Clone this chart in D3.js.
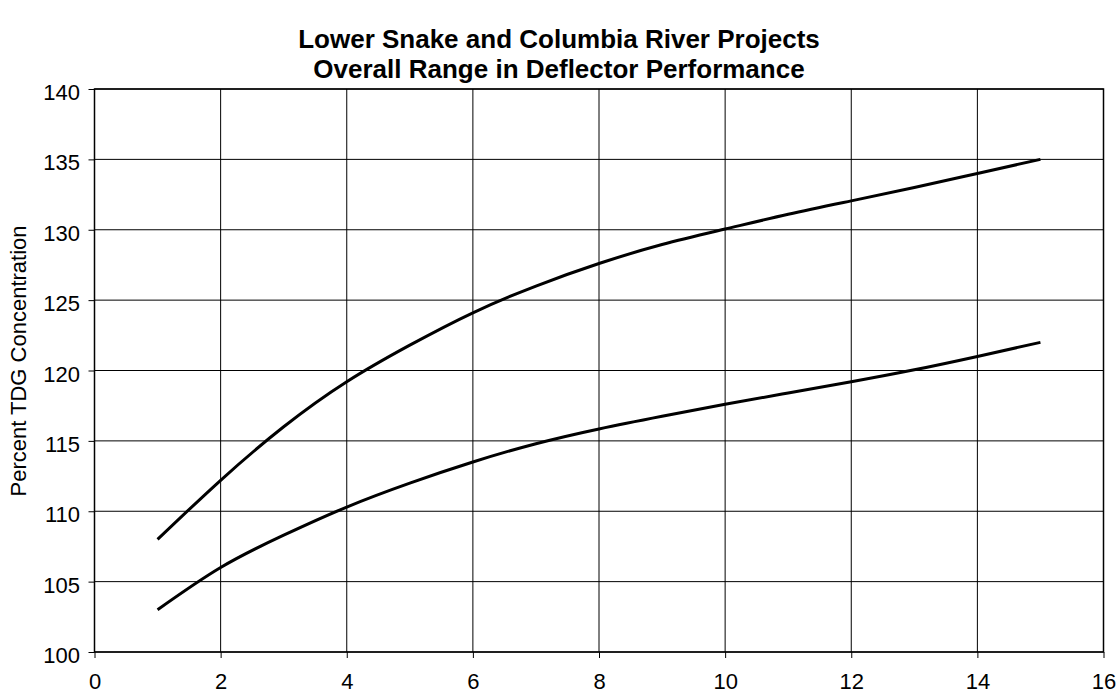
<!DOCTYPE html>
<html><head><meta charset="utf-8">
<script src="https://cdn.jsdelivr.net/npm/d3@7"></script>
<style>body{margin:0;background:#fff;} svg{display:block;font-family:Arial,"Liberation Sans",sans-serif;}</style>
</head><body>
<script>
const xValues = [1,2,3,4,5,6,7,8,9,10,11,12,13,14,15];
const upperSeries = [108,112.2,116.0,119.2,121.8,124.1,126.0,127.6,128.95,130.05,131.1,132.05,133.0,134.0,135.0];
const lowerSeries = [103,106.0,108.3,110.3,112.0,113.5,114.8,115.85,116.75,117.6,118.4,119.2,120.05,121.0,122.0];
const xTicks = [0,2,4,6,8,10,12,14,16];
const yTicks = [100,105,110,115,120,125,130,135,140];
const titleLines = ["Lower Snake and Columbia River Projects","Overall Range in Deflector Performance"];
const yAxisTitle = "Percent TDG Concentration";

const W=1117,H=694;
const m={left:94.5,right:1103.5,top:89,bottom:652};
const svg=d3.select("body").append("svg").attr("width",W).attr("height",H);
const x=d3.scaleLinear().domain([0,16]).range([m.left,m.right]);
const y=d3.scaleLinear().domain([100,140]).range([m.bottom,m.top]);

// gridlines
svg.append("g").selectAll("line").data(yTicks).join("line")
  .attr("x1",m.left).attr("x2",m.right).attr("y1",d=>y(d)).attr("y2",d=>y(d))
  .attr("stroke","#000").attr("stroke-width",1);
svg.append("g").selectAll("line").data(xTicks).join("line")
  .attr("y1",m.top).attr("y2",m.bottom).attr("x1",d=>x(d)).attr("x2",d=>x(d))
  .attr("stroke","#000").attr("stroke-width",1);

// axes
const ya=svg.append("g").attr("transform",`translate(${m.left},0)`)
  .call(d3.axisLeft(y).tickValues(yTicks).tickSize(6).tickPadding(8).tickFormat(d3.format("d")));
const xa=svg.append("g").attr("transform",`translate(0,${m.bottom})`)
  .call(d3.axisBottom(x).tickValues(xTicks).tickSize(6).tickPadding(22).tickFormat(d3.format("d")));
[ya,xa].forEach(g=>{
  g.select(".domain").remove();
  g.selectAll("line").attr("stroke","#000").attr("stroke-width",1);
  g.selectAll("text").attr("font-size","22px").attr("fill","#000").attr("font-family","Arial,'Liberation Sans',sans-serif");
});
ya.selectAll("text").attr("dy",null).attr("dominant-baseline",null).attr("y",10.5).attr("x",-14.5);
xa.selectAll("text").attr("dy",null).attr("y",37);

// border
svg.append("rect").attr("x",m.left).attr("y",m.top).attr("width",m.right-m.left).attr("height",m.bottom-m.top)
  .attr("fill","none").attr("stroke","#000").attr("stroke-width",1.5);

// lines
const line=d3.line().x((d,i)=>x(xValues[i])).y(d=>y(d)).curve(d3.curveNatural);
[upperSeries,lowerSeries].forEach(s=>{
  svg.append("path").attr("d",line(s)).attr("fill","none").attr("stroke","#000").attr("stroke-width",3);
});

// title
svg.append("g").selectAll("text").data(titleLines).join("text")
  .attr("x",559).attr("y",(d,i)=>48+i*30).attr("text-anchor","middle")
  .attr("font-weight","bold").attr("font-size","26px").text(d=>d);

// y title
svg.append("text").attr("transform",`translate(26,361) rotate(-90)`).attr("text-anchor","middle")
  .attr("font-size","22px").text(yAxisTitle);
</script>
</body></html>
